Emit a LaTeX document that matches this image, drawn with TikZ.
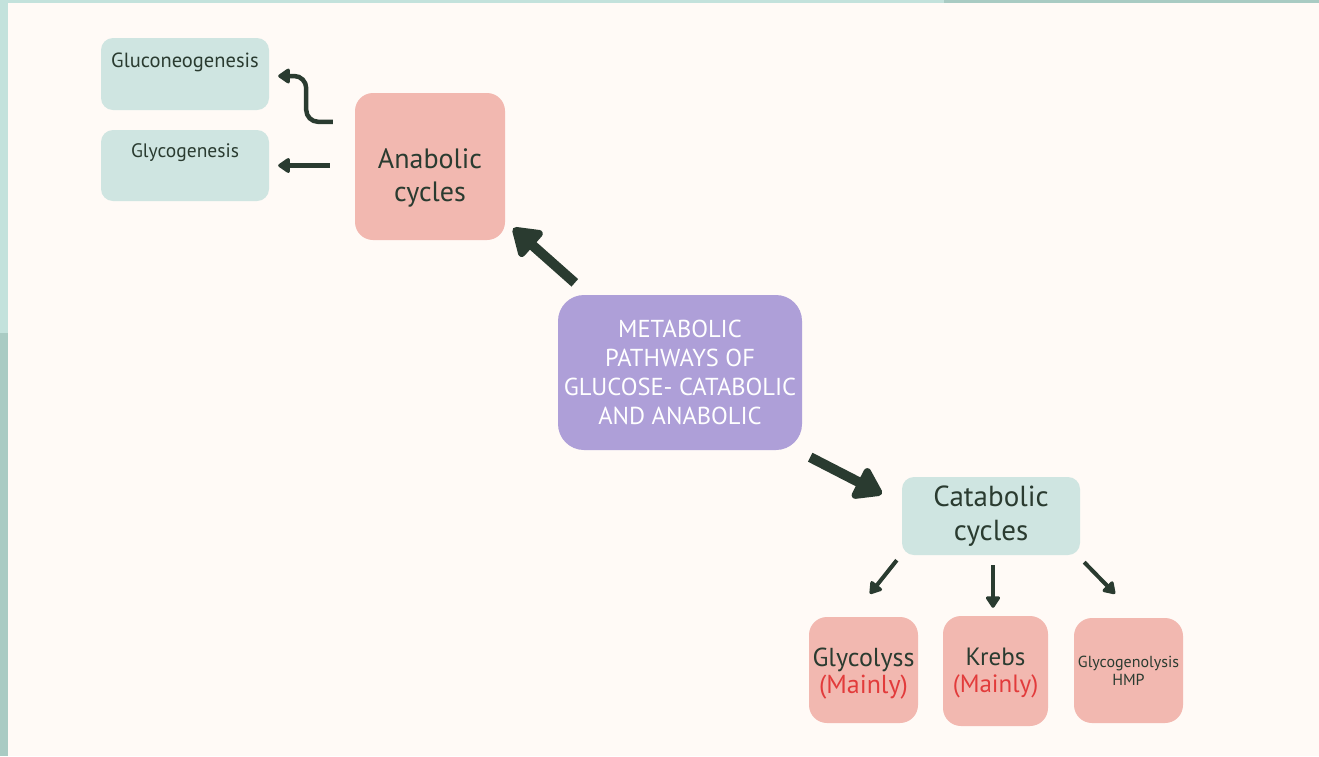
\documentclass[tikz,border=0pt]{standalone}
\usepackage{fontspec}
\setmainfont{PT Sans}
\usetikzlibrary{arrows.meta,calc}
\definecolor{cream}{HTML}{FFFAF6}
\definecolor{tealbox}{HTML}{CFE5E1}
\definecolor{pinkbox}{HTML}{F2B8B0}
\definecolor{purplebox}{HTML}{AE9FD8}
\definecolor{darkink}{HTML}{2A3B30}
\definecolor{redtext}{HTML}{E23B3B}
\definecolor{edgelight}{HTML}{C3E2DC}
\definecolor{edgedark}{HTML}{A9CBC3}
\tikzset{
  tealnode/.style={fill=tealbox, rounded corners=12pt, inner sep=0pt, text=darkink, align=center},
  pinknode/.style={fill=pinkbox, rounded corners=18pt, inner sep=0pt, text=darkink, align=center},
  mainnode/.style={fill=purplebox, rounded corners=26pt, inner sep=0pt, text=white, align=center},
  bigarrow/.style={draw=darkink, line width=10pt, -{Triangle[width=38pt,length=30pt,round]}},
  midarrow/.style={draw=darkink, line width=4.5pt, -{Triangle[width=17pt,length=13pt,round]}},
  smallarrow/.style={draw=darkink, line width=4pt, -{Triangle[width=16pt,length=13pt,round]}},
}
\begin{document}
\begin{tikzpicture}[x=1pt,y=-1pt]
\fill[cream] (0,0) rectangle (1319,756);
\useasboundingbox (0,0) rectangle (1319,756);
\fill[edgelight] (0,0) rectangle (8,333);
\fill[edgedark] (0,333) rectangle (8,756);
\fill[edgelight] (0,0) rectangle (944,3);
\fill[edgedark] (944,0) rectangle (1319,3);

% nodes
\node[tealnode, minimum width=168pt, minimum height=72pt,
  label={[anchor=north, yshift=-12pt, text=darkink, font=\fontsize{20.5}{24}\selectfont]north:Gluconeogenesis}]
  (gluco) at (185,74) {};
\node[tealnode, minimum width=168pt, minimum height=71pt,
  label={[anchor=north, yshift=-10pt, text=darkink, font=\fontsize{19.5}{23}\selectfont]north:Glycogenesis}]
  (glyco) at (185,165.5) {};
\node[pinknode, minimum width=150pt, minimum height=147pt,
  label={[yshift=-11pt, align=center, text=darkink, font=\fontsize{28}{33}\selectfont]center:Anabolic\\cycles}]
  (anab) at (430,166.5) {};
\node[mainnode, minimum width=244pt, minimum height=155pt, font=\fontsize{24.5}{29}\selectfont]
  (main) at (680,372.5) {METABOLIC\\PATHWAYS OF\\GLUCOSE- CATABOLIC\\AND ANABOLIC};
\node[tealnode, minimum width=178pt, minimum height=78pt, font=\fontsize{29}{34}\selectfont]
  (cat) at (991,516) {Catabolic\\cycles};
\node[pinknode, minimum width=109pt, minimum height=106pt,
  label={[yshift=-4pt, align=center, text=darkink, font=\fontsize{26}{27}\selectfont]center:Glycolyss\\\textcolor{redtext}{(Mainly)}}]
  (gly) at (863.5,670) {};
\node[pinknode, minimum width=105pt, minimum height=110pt,
  label={[yshift=-2pt, align=center, text=darkink, font=\fontsize{25}{27}\selectfont]center:Krebs\\\textcolor{redtext}{(Mainly)}}]
  (krebs) at (995.5,671) {};
\node[pinknode, minimum width=109pt, minimum height=105pt, font=\fontsize{16}{18}\selectfont]
  (glg) at (1128.5,670.5) {Glycogenolysis\\HMP};

% connectors
\draw[bigarrow] ($(main.north west)+(17,-12)$) -- ($(anab.south east)+(8,-12)$);
\draw[bigarrow] ($(main.south east)+(8,7)$) -- ($(cat.west)+(-20,-22)$);
\draw[midarrow, rounded corners=12pt] ($(anab.north west)+(-22,29)$) -| ($(gluco.east)+(37,2)$) -- ($(gluco.east)+(9,2)$);
\draw[midarrow] ($(anab.west)+(-25,-1)$) -- ($(glyco.east)+(9,0)$);
\draw[smallarrow] ($(cat.south west)+(-5,5)$) -- ($(gly.north)+(6.5,-23)$);
\draw[smallarrow] ($(cat.south)+(2,10)$) -- ($(krebs.north)+(-2.5,-8)$);
\draw[smallarrow] ($(cat.south east)+(4,7)$) -- ($(glg.north)+(-13.5,-24)$);
\end{tikzpicture}
\end{document}
